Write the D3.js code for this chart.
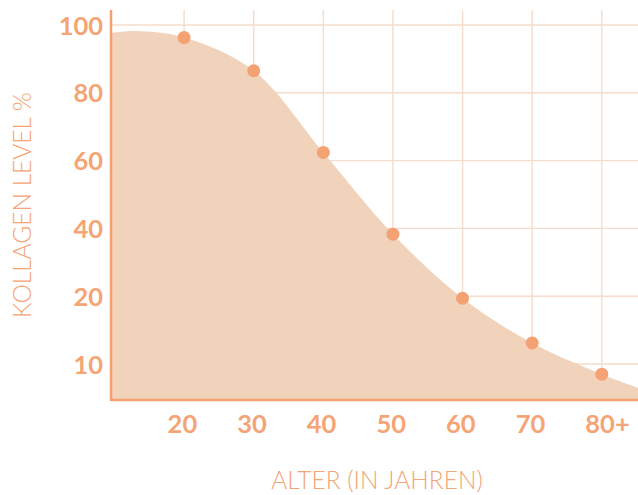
<!DOCTYPE html>
<html>
<head>
<meta charset="utf-8">
<script src="https://cdn.jsdelivr.net/npm/d3@7"></script>
<style>
  html, body { margin: 0; padding: 0; background: #ffffff; }
  svg { display: block; }
</style>
</head>
<body>
<svg id="chart" width="638" height="495"></svg>
<script>
// ---- data ----
const ageLabels = ["20", "30", "40", "50", "60", "70", "80+"];
const ages = [20, 30, 40, 50, 60, 70, 80];
const levels = [96.3, 86.5, 62.4, 38.3, 19.7, 13.1, 8.5];

// smooth area outline (age, level) – start, crest, data points, end
const curveAges = [9.5, 13, 20, 30, 40, 50, 60, 70, 80, 85.2];
const curveLevels = [97.6, 98.2, 96.3, 86.5, 62.4, 38.3, 19.7, 13.1, 8.5, 6.5];

// y tick labels (axis is not linear between 10 and 20)
const levelTicks = [100, 80, 60, 40, 20, 10];
const levelTickLabels = ["100", "80", "60", "40", "20", "10"];

const xTitle = "ALTER (IN JAHREN)";
const yTitle = "KOLLAGEN LEVEL %";

// ---- layout ----
const mLeft = 111, mTop = 10, mBottom = 400, mRight = 638;
const gridTop = 25, gridStep = 67.8;

const svg = d3.select("#chart");

const x = d3.scaleLinear().domain([9.5, 85.2]).range([mLeft, mRight]);
// piecewise scale: equal spacing per tick label
const y = d3.scaleLinear()
  .domain([4.7, 10, 20, 40, 60, 80, 100])
  .range([mBottom, gridTop + 5 * gridStep, gridTop + 4 * gridStep, gridTop + 3 * gridStep,
          gridTop + 2 * gridStep, gridTop + gridStep, gridTop]);

const colAxis = "#f5a06f";
const colText = "#f5a475";
const colGrid = "#f5dccb";
const colArea = "#f1d2bb";
const colDot = "#f4a173";
const font = "Lato, 'Open Sans', sans-serif";

// grid
const grid = svg.append("g");
grid.selectAll("line.v").data(ages).enter().append("line")
  .attr("class", "v")
  .attr("x1", d => x(d)).attr("x2", d => x(d))
  .attr("y1", mTop).attr("y2", mBottom)
  .attr("stroke", colGrid).attr("stroke-width", 1.4);
grid.selectAll("line.h").data(levelTicks).enter().append("line")
  .attr("class", "h")
  .attr("x1", mLeft).attr("x2", mRight)
  .attr("y1", d => y(d)).attr("y2", d => y(d))
  .attr("stroke", colGrid).attr("stroke-width", 1.4);

// area
const curvePts = curveAges.map((a, i) => [a, curveLevels[i]]);
const area = d3.area()
  .x(d => x(d[0]))
  .y0(mBottom)
  .y1(d => y(d[1]))
  .curve(d3.curveCatmullRom.alpha(0.5));
svg.append("path").datum(curvePts)
  .attr("d", area)
  .attr("fill", colArea);

// dots
svg.selectAll("circle").data(ages).enter().append("circle")
  .attr("cx", d => x(d))
  .attr("cy", (d, i) => y(levels[i]))
  .attr("r", 6.5)
  .attr("fill", colDot);

// axes lines
svg.append("line").attr("x1", mLeft).attr("x2", mLeft).attr("y1", mTop).attr("y2", mBottom + 1)
  .attr("stroke", colAxis).attr("stroke-width", 2.5);
svg.append("line").attr("x1", mLeft).attr("x2", mRight).attr("y1", mBottom).attr("y2", mBottom)
  .attr("stroke", colAxis).attr("stroke-width", 2.5);

// y tick labels
const yAxis = d3.axisLeft(y).tickValues(levelTicks).tickSize(0).tickPadding(8)
  .tickFormat((d, i) => levelTickLabels[i]);
const gy = svg.append("g").attr("transform", `translate(${mLeft},0)`).call(yAxis);
gy.select(".domain").remove();
gy.selectAll("text")
  .attr("fill", colText)
  .style("font-family", font)
  .style("font-weight", "700")
  .style("font-size", "25.5px")
  .attr("dy", "0.36em");

// x tick labels
const xAxis = d3.axisBottom(x).tickValues(ages).tickSize(0)
  .tickFormat((d, i) => ageLabels[i]);
const gx = svg.append("g").attr("transform", `translate(0,${mBottom})`).call(xAxis);
gx.select(".domain").remove();
gx.selectAll("text")
  .attr("fill", colText)
  .attr("text-anchor", "start")
  .attr("x", -17)
  .attr("y", 32.5)
  .attr("dy", 0)
  .style("font-family", font)
  .style("font-weight", "700")
  .style("font-size", "25.5px");

// titles
svg.append("text")
  .attr("x", 377).attr("y", 489)
  .attr("text-anchor", "middle")
  .attr("fill", colText)
  .style("font-family", font)
  .style("font-weight", "300")
  .style("font-size", "24.5px")
  .text(xTitle);

svg.append("text")
  .attr("transform", "translate(31,205) rotate(-90)")
  .attr("text-anchor", "middle")
  .attr("fill", colText)
  .style("font-family", font)
  .style("font-weight", "300")
  .style("font-size", "24.5px")
  .text(yTitle);
</script>
</body>
</html>
